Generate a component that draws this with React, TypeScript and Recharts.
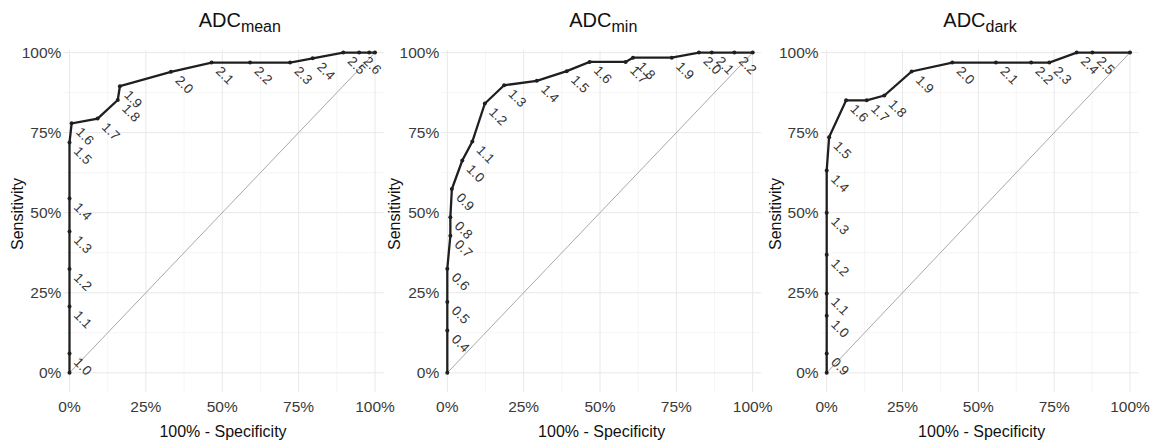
import React from 'react';
import { LineChart, Line, XAxis, YAxis, CartesianGrid, ReferenceLine, LabelList } from 'recharts';

// ADC_mean: cut-off, 100% - specificity, sensitivity
const meanCutoffs = ['', '1.0', '1.1', '1.2', '1.3', '1.4', '1.5', '1.6', '1.7', '1.8', '1.9', '2.0', '2.1', '2.2', '2.3', '2.4', '2.5', '2.6', '', ''];
const meanFpr = [0, 0, 0, 0, 0, 0, 0, 0.7, 9.2, 15.8, 16.5, 33.2, 46.5, 59.1, 72.2, 79.6, 89.6, 94.8, 98.1, 100];
const meanSens = [0, 6.0, 20.7, 32.4, 44.1, 54.4, 71.9, 77.9, 79.4, 85.2, 89.5, 94.0, 96.9, 96.9, 96.9, 98.2, 100, 100, 100, 100];

// ADC_min
const minCutoffs = ['', '0.4', '0.5', '0.6', '0.7', '0.8', '0.9', '1.0', '1.1', '1.2', '1.3', '1.4', '1.5', '1.6', '1.7', '1.8', '1.9', '2.0', '2.1', '2.2', ''];
const minFpr = [0, 0, 0, 0, 1.0, 1.0, 1.5, 4.9, 8.2, 12.3, 18.6, 29.3, 39.1, 46.6, 58.4, 60.8, 73.5, 82.4, 86.6, 94.0, 100];
const minSens = [0, 13.2, 22.1, 32.5, 42.8, 48.6, 57.4, 66.3, 72.2, 84.1, 89.8, 91.2, 94.2, 97.1, 97.1, 98.4, 98.4, 100, 100, 100, 100];

// ADC_dark
const darkCutoffs = ['', '0.9', '1.0', '1.1', '1.2', '1.3', '1.4', '1.5', '1.6', '1.7', '1.8', '1.9', '2.0', '2.1', '2.2', '2.3', '2.4', '2.5', ''];
const darkFpr = [0, 0, 0, 0, 0, 0, 0, 0.8, 6.4, 13.2, 19.0, 28.0, 41.4, 55.8, 67.4, 73.4, 82.4, 87.6, 100];
const darkSens = [0, 6.0, 17.8, 24.8, 36.9, 50.0, 63.2, 73.6, 85.1, 85.1, 86.6, 94.1, 96.9, 96.9, 96.9, 96.9, 100, 100, 100];

const majorTicks = [0, 25, 50, 75, 100];
const minorTicks = [12.5, 37.5, 62.5, 87.5];

const toRows = (cut: string[], fpr: number[], sens: number[]) =>
  fpr.map((f, i) => ({ fpr: f, sens: sens[i], cut: cut[i] }));

const X_MIN = -2;
const X_MAX = 102.8;
const Y_MIN = -6;
const Y_MAX = 100.8;
const Y100 = 52.6;
const Y0 = 372.8;
const H = 441;
const Y_AXIS_W = 45;
const X_AXIS_H = 30;
const FONT = '"Liberation Sans", Arial, Helvetica, sans-serif';

const panels = [
  { sub: 'mean', rows: toRows(meanCutoffs, meanFpr, meanSens), left: 0, width: 405, x0: 69.5, x100: 375, titleX: 239.8, yTitleX: 22.5, xTitleX: 223 },
  { sub: 'min', rows: toRows(minCutoffs, minFpr, minSens), left: 385, width: 400, x0: 447.3, x100: 752.7, titleX: 603.3, yTitleX: 400, xTitleX: 601.7 },
  { sub: 'dark', rows: toRows(darkCutoffs, darkFpr, darkSens), left: 770, width: 390, x0: 826.7, x100: 1130, titleX: 980, yTitleX: 780.5, xTitleX: 981.7 },
];

const renderCut = (props: any) => {
  const { x, y, value } = props;
  if (!value) return null;
  const ax = Number(x) + 3.5;
  const ay = Number(y) + 9.5;
  return (
    <text x={ax} y={ay} transform={`rotate(45 ${ax} ${ay})`} fontSize={13.5} fill="#333" fontFamily={FONT}>
      {value}
    </text>
  );
};

const pct = (v: number) => `${v}%`;

const Panel = ({ p }: { p: (typeof panels)[number] }) => {
  const perX = (p.x100 - p.x0) / 100;
  const plotLeft = p.x0 + X_MIN * perX;
  const plotRight = p.x0 + X_MAX * perX;
  const perY = (Y0 - Y100) / 100;
  const plotTop = Y100 - (Y_MAX - 100) * perY;
  const plotBottom = Y0 - Y_MIN * perY;
  const margin = {
    left: plotLeft - p.left - Y_AXIS_W,
    right: p.left + p.width - plotRight,
    top: plotTop,
    bottom: H - plotBottom - X_AXIS_H,
  };
  const tickStyle = { fill: '#3a3a3a', fontSize: 15.5, fontFamily: FONT };
  return (
    <div style={{ position: 'absolute', left: p.left, top: 0 }}>
      <LineChart width={p.width} height={H} data={p.rows} margin={margin}>
        <CartesianGrid stroke="#f1f1f1" strokeWidth={0.7} verticalValues={minorTicks} horizontalValues={minorTicks} />
        <CartesianGrid stroke="#e8e8e8" strokeWidth={1} verticalValues={majorTicks} horizontalValues={majorTicks} />
        <XAxis
          dataKey="fpr"
          type="number"
          domain={[X_MIN, X_MAX]}
          ticks={majorTicks}
          tickFormatter={pct}
          axisLine={false}
          tickLine={false}
          tickSize={0}
          tickMargin={9}
          height={X_AXIS_H}
          tick={tickStyle}
          interval={0}
          allowDataOverflow
        />
        <YAxis
          type="number"
          domain={[Y_MIN, Y_MAX]}
          ticks={majorTicks}
          tickFormatter={pct}
          axisLine={false}
          tickLine={false}
          tickSize={0}
          tickMargin={2}
          width={Y_AXIS_W}
          tick={tickStyle}
          interval={0}
          allowDataOverflow
        />
        <ReferenceLine segment={[{ x: 0, y: 0 }, { x: 100, y: 100 }]} stroke="#a8a8a8" strokeWidth={1} />
        <Line
          type="linear"
          dataKey="sens"
          stroke="#1f1f1f"
          strokeWidth={2.3}
          dot={{ r: 2, fill: '#1f1f1f', stroke: 'none' }}
          activeDot={false}
          isAnimationActive={false}
        >
          <LabelList dataKey="cut" content={renderCut} />
        </Line>
      </LineChart>
    </div>
  );
};

export default function App() {
  return (
    <div style={{ position: 'absolute', left: 0, top: 0, width: 1160, height: H, background: '#fff', fontFamily: FONT }}>
      {panels.map((p) => (
        <Panel key={p.sub} p={p} />
      ))}
      <svg width={1160} height={H} style={{ position: 'absolute', left: 0, top: 0, pointerEvents: 'none' }}>
        {panels.map((p) => (
          <g key={p.sub} fontFamily={FONT} fill="#111">
            <text x={p.titleX} y={27.3} textAnchor="middle" fontSize={20}>
              ADC<tspan fontSize={16} dy={4.5}>{p.sub}</tspan>
            </text>
            <text x={p.yTitleX} y={214} textAnchor="middle" fontSize={16} transform={`rotate(-90 ${p.yTitleX} 214)`}>
              Sensitivity
            </text>
            <text x={p.xTitleX} y={436.5} textAnchor="middle" fontSize={16}>
              100% - Specificity
            </text>
          </g>
        ))}
      </svg>
    </div>
  );
}
